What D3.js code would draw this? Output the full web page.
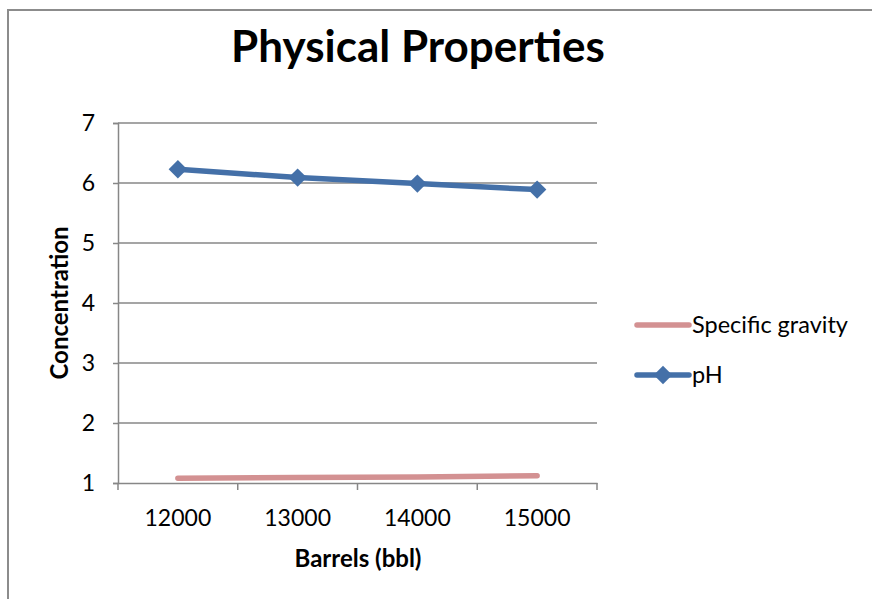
<!DOCTYPE html>
<html><head><meta charset="utf-8">
<script src="https://cdn.jsdelivr.net/npm/d3@7"></script>
<style>body{margin:0;background:#fff}svg{display:block}text{font-family:Lato,"Open Sans",sans-serif}</style>
</head><body><svg id="c" width="872" height="599"></svg>
<script>
const categories = ["12000","13000","14000","15000"];
const specificGravity = [1.08,1.09,1.10,1.12];
const pH = [6.23,6.09,5.99,5.89];
const yTicks = [1,2,3,4,5,6,7];
const seriesNames = ["Specific gravity","pH"];

const svg = d3.select("#c");
svg.append("rect").attr("x",8).attr("y",10).attr("width",900).attr("height",700)
  .attr("fill","#fff").attr("stroke","#8c8c8c").attr("stroke-width",2);

const L=118,R=597,T=123,B=483;
const x = d3.scaleBand().domain(categories).range([L,R]);
const y = d3.scaleLinear().domain([1,7]).range([B,T]);

svg.append("g").selectAll("line").data(yTicks.slice(1)).join("line")
  .attr("x1",L).attr("x2",R).attr("y1",d=>y(d)).attr("y2",d=>y(d))
  .attr("stroke","#878787").attr("stroke-width",1.5);

const yAx = svg.append("g").attr("transform",`translate(${L},0)`)
  .call(d3.axisLeft(y).tickValues(yTicks).tickSize(5).tickPadding(18).tickFormat(d3.format("d")));
yAx.select(".domain").attr("stroke","#878787").attr("stroke-width",1.5);
yAx.selectAll(".tick line").attr("stroke","#878787").attr("stroke-width",1.5);
yAx.selectAll("text").attr("font-size",23).attr("fill","#000").attr("font-family","Lato,sans-serif");

const xAx = svg.append("g").attr("transform",`translate(0,${B})`)
  .call(d3.axisBottom(x).tickSize(0).tickPadding(27));
xAx.select(".domain").attr("stroke","#878787").attr("stroke-width",1.5);
xAx.selectAll("text").attr("font-size",23).attr("fill","#000").attr("font-family","Lato,sans-serif");
const bounds = categories.map(c=>x(c)).concat([R]);
xAx.selectAll(".bt").data(bounds).join("line").attr("class","bt")
  .attr("x1",d=>d).attr("x2",d=>d).attr("y1",0).attr("y2",7)
  .attr("stroke","#878787").attr("stroke-width",1.5);

const cx = c => x(c)+x.bandwidth()/2;
const line = d3.line().x((d,i)=>cx(categories[i])).y(d=>y(d));

svg.append("path").datum(specificGravity).attr("d",line)
  .attr("fill","none").attr("stroke","#d39192").attr("stroke-width",5.5).attr("stroke-linecap","round");
svg.append("path").datum(pH).attr("d",line)
  .attr("fill","none").attr("stroke","#4470a8").attr("stroke-width",5.5);
svg.append("g").selectAll("path").data(pH).join("path")
  .attr("d",d3.symbol(d3.symbolSquare, 170))
  .attr("transform",(d,i)=>`translate(${cx(categories[i])},${y(d)}) rotate(45)`)
  .attr("fill","#4470a8");

svg.append("text").attr("x",418).attr("y",62).attr("text-anchor","middle")
  .attr("font-size",44).attr("font-weight","bold").text("Physical Properties");
svg.append("text").attr("x",358).attr("y",567).attr("text-anchor","middle")
  .attr("font-size",24).attr("font-weight","bold").text("Barrels (bbl)");
svg.append("text").attr("transform","translate(68,303) rotate(-90)").attr("text-anchor","middle")
  .attr("font-size",24).attr("font-weight","bold").text("Concentration");

const colors = ["#d39192","#4470a8"];
const lg = svg.append("g").selectAll("g").data(seriesNames).join("g")
  .attr("transform",(d,i)=>`translate(637,${325+i*50})`);
lg.append("line").attr("x1",0).attr("x2",52).attr("stroke",(d,i)=>colors[i]).attr("stroke-width",5.5).attr("stroke-linecap","round");
lg.filter((d,i)=>i===1).append("path").attr("d",d3.symbol(d3.symbolSquare,170)).attr("transform","translate(26,0) rotate(45)").attr("fill","#4470a8");
lg.append("text").attr("x",55).attr("y",8).attr("font-size",23.5).text(d=>d);
</script></body></html>
